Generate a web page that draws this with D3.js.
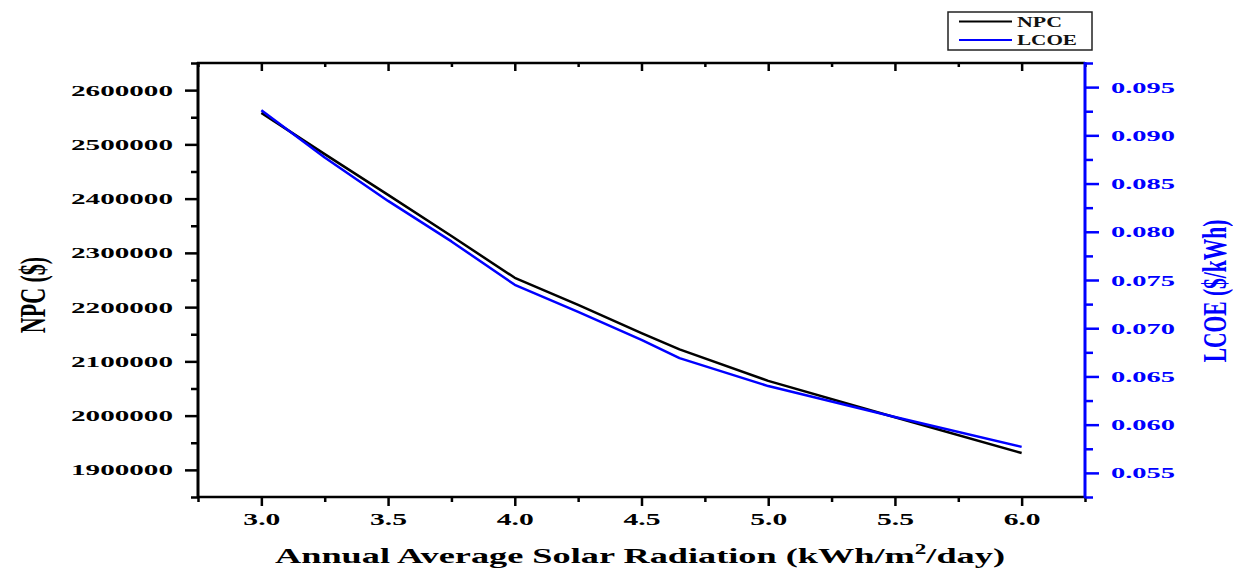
<!DOCTYPE html>
<html>
<head>
<meta charset="utf-8">
<script src="https://cdn.jsdelivr.net/npm/d3@7"></script>
<style>
  html, body { margin: 0; padding: 0; background: #fff; }
  svg { display: block; }
  text { font-family: "Liberation Serif", "Times New Roman", serif; font-weight: bold; }
</style>
</head>
<body>
<svg id="chart" width="1233" height="569"></svg>
<script>
// Annual average solar radiation (kWh/m²/day)
const radiation = [3.0, 3.25, 3.5, 3.75, 4.0, 4.25, 4.5, 4.65, 5.0, 5.5, 6.0];
// Net present cost ($)
const npc = [2558000, 2482000, 2407000, 2331000, 2254000, 2204000, 2152000, 2122000, 2064000, 1997000, 1931000];
// Levelized cost of energy ($/kWh)
const lcoe = [0.0926, 0.0877, 0.0832, 0.0790, 0.0745, 0.0717, 0.0688, 0.0669, 0.0640, 0.0608, 0.0577];

const xMajor = [3.0, 3.5, 4.0, 4.5, 5.0, 5.5, 6.0];
const xMinor = [2.75, 3.25, 3.75, 4.25, 4.75, 5.25, 5.75, 6.25];
const npcMajor = [1900000, 2000000, 2100000, 2200000, 2300000, 2400000, 2500000, 2600000];
const npcMinor = [1850000, 1950000, 2050000, 2150000, 2250000, 2350000, 2450000, 2550000, 2650000];
const lcoeMajor = [0.055, 0.060, 0.065, 0.070, 0.075, 0.080, 0.085, 0.090, 0.095];
const lcoeMinor = [0.0525, 0.0575, 0.0625, 0.0675, 0.0725, 0.0775, 0.0825, 0.0875, 0.0925, 0.0975];

const seriesNames = ["NPC", "LCOE"];
const seriesColors = ["#000000", "#0000ff"];

const svg = d3.select("#chart");
const plot = { left: 198, right: 1085, top: 63, bottom: 497 };

const x = d3.scaleLinear().domain([2.75, 6.25]).range([plot.left, plot.right]);
const yL = d3.scaleLinear().domain([1850000, 2650000]).range([plot.bottom, plot.top]);
const yR = d3.scaleLinear().domain([0.0525, 0.0975]).range([plot.bottom, plot.top]);

const blue = "#0000ff";

// helper: build an axis group and strip the default domain path
function axisGroup(axis, tx, ty, color) {
  const g = svg.append("g").attr("transform", `translate(${tx},${ty})`).call(axis);
  g.select(".domain").remove();
  g.selectAll(".tick line").attr("stroke", color).attr("stroke-width", 2.5);
  return g;
}

// bottom axis
axisGroup(d3.axisBottom(x).tickValues(xMinor).tickSize(5).tickFormat(""), 0, plot.bottom, "#000");
const gx = axisGroup(d3.axisBottom(x).tickValues(xMajor).tickSize(9).tickFormat(d3.format(".1f")), 0, plot.bottom, "#000");
gx.selectAll(".tick text")
  .attr("y", 28).attr("dy", 0)
  .attr("fill", "#000").attr("font-size", 16)
  .attr("textLength", 37).attr("lengthAdjust", "spacingAndGlyphs");

// top mirrored ticks (inward)
axisGroup(d3.axisTop(x).tickValues(xMinor).tickSize(-4).tickFormat(""), 0, plot.top, "#000");
axisGroup(d3.axisTop(x).tickValues(xMajor).tickSize(-8).tickFormat(""), 0, plot.top, "#000");

// left axis (NPC)
axisGroup(d3.axisLeft(yL).tickValues(npcMinor).tickSize(7).tickFormat(""), plot.left, 0, "#000");
const gl = axisGroup(d3.axisLeft(yL).tickValues(npcMajor).tickSize(13).tickFormat(d3.format("d")), plot.left, 0, "#000");
gl.selectAll(".tick text")
  .attr("x", -25).attr("dy", 5)
  .attr("fill", "#000").attr("font-size", 15)
  .attr("textLength", 102).attr("lengthAdjust", "spacingAndGlyphs");

// right axis (LCOE)
axisGroup(d3.axisRight(yR).tickValues(lcoeMinor).tickSize(8).tickFormat(""), plot.right, 0, blue);
const gr = axisGroup(d3.axisRight(yR).tickValues(lcoeMajor).tickSize(14).tickFormat(d3.format(".3f")), plot.right, 0, blue);
gr.selectAll(".tick text")
  .attr("x", 26).attr("dy", 5)
  .attr("fill", blue).attr("font-size", 15)
  .attr("text-anchor", "start")
  .attr("textLength", 64).attr("lengthAdjust", "spacingAndGlyphs");

// frame lines
svg.append("line").attr("x1", plot.left - 1).attr("x2", plot.right).attr("y1", plot.top).attr("y2", plot.top)
  .attr("stroke", "#000").attr("stroke-width", 2.5);
svg.append("line").attr("x1", plot.left - 1).attr("x2", plot.right).attr("y1", plot.bottom).attr("y2", plot.bottom)
  .attr("stroke", "#000").attr("stroke-width", 2.5);
svg.append("line").attr("x1", plot.left).attr("x2", plot.left).attr("y1", plot.top - 1).attr("y2", plot.bottom + 1)
  .attr("stroke", "#000").attr("stroke-width", 3);
svg.append("line").attr("x1", plot.right).attr("x2", plot.right).attr("y1", plot.top - 1).attr("y2", plot.bottom + 1)
  .attr("stroke", blue).attr("stroke-width", 3);

// data lines
const lineNpc = d3.line().x((d, i) => x(radiation[i])).y(d => yL(d));
const lineLcoe = d3.line().x((d, i) => x(radiation[i])).y(d => yR(d));

svg.append("path").datum(npc).attr("d", lineNpc)
  .attr("fill", "none").attr("stroke", seriesColors[0]).attr("stroke-width", 2.5).attr("stroke-linejoin", "round");
svg.append("path").datum(lcoe).attr("d", lineLcoe)
  .attr("fill", "none").attr("stroke", seriesColors[1]).attr("stroke-width", 2.5).attr("stroke-linejoin", "round");

// axis titles
svg.append("text")
  .attr("x", 640).attr("y", 563)
  .attr("text-anchor", "middle").attr("font-size", 22).attr("fill", "#000")
  .attr("textLength", 730).attr("lengthAdjust", "spacingAndGlyphs")
  .call(t => {
    t.append("tspan").text("Annual Average Solar Radiation (kWh/m");
    t.append("tspan").attr("font-size", 14).attr("dy", -9).text("2");
    t.append("tspan").attr("dy", 9).text("/day)");
  });

svg.append("g").attr("transform", "translate(45,295) scale(1.6,1) rotate(-90)")
  .append("text").attr("text-anchor", "middle").attr("font-size", 22).attr("fill", "#000")
  .text("NPC ($)");

svg.append("g").attr("transform", "translate(1226,291) scale(1.55,1) rotate(-90)")
  .append("text").attr("text-anchor", "middle").attr("font-size", 21.5).attr("fill", blue)
  .text("LCOE ($/kWh)");

// legend
const legend = svg.append("g");
legend.append("rect").attr("x", 948).attr("y", 12).attr("width", 144).attr("height", 38)
  .attr("fill", "#fff").attr("stroke", "#222").attr("stroke-width", 1.5);
const legendRows = [21.5, 40];
const legendWidths = [45, 60];
seriesNames.forEach((name, i) => {
  legend.append("line").attr("x1", 959).attr("x2", 1012).attr("y1", legendRows[i]).attr("y2", legendRows[i])
    .attr("stroke", seriesColors[i]).attr("stroke-width", 2);
  legend.append("text").attr("x", 1017).attr("y", legendRows[i] + 5)
    .attr("font-size", 15).attr("fill", "#111")
    .attr("textLength", legendWidths[i]).attr("lengthAdjust", "spacingAndGlyphs")
    .text(name);
});
</script>
</body>
</html>
